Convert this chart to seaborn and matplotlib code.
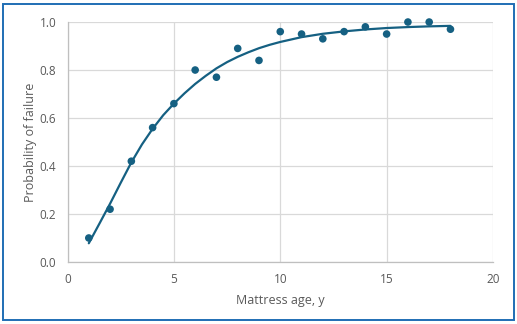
import matplotlib
matplotlib.use("Agg")
import matplotlib.pyplot as plt
from matplotlib.patches import Rectangle
import pandas as pd
import seaborn as sns

# Observed failure probabilities by mattress age (years)
age = [1, 2, 3, 4, 5, 6, 7, 8, 9, 10, 11, 12, 13, 14, 15, 16, 17, 18]
failure = [0.10, 0.22, 0.42, 0.56, 0.66, 0.80, 0.77, 0.89, 0.84, 0.96,
           0.95, 0.93, 0.96, 0.98, 0.95, 1.00, 1.00, 0.97]

# Fitted trend curve, sampled along the age axis
trend_age = [1, 1.5, 2, 2.5, 3, 3.5, 4, 4.5, 5, 5.5, 6, 6.5, 7, 7.5, 8,
             8.5, 9, 9.5, 10, 11, 12, 13, 14, 15, 16, 17, 18]
trend = [0.078, 0.16, 0.243, 0.33, 0.415, 0.49, 0.555, 0.612, 0.66,
         0.703, 0.742, 0.776, 0.807, 0.833, 0.855, 0.874, 0.891, 0.905,
         0.917, 0.937, 0.951, 0.961, 0.969, 0.975, 0.979, 0.982, 0.984]

x_ticks = [0, 5, 10, 15, 20]
y_ticks = [0.0, 0.2, 0.4, 0.6, 0.8, 1.0]

points = pd.DataFrame({"age": age, "failure": failure})
curve = pd.DataFrame({"age": trend_age, "trend": trend})

sns.set_theme(style="white")
plt.rcParams["font.family"] = ["Open Sans", "DejaVu Sans"]

color = "#156082"
grid = "#D9D9D9"
text = "#595959"

fig = plt.figure(figsize=(5.17, 3.24), dpi=100)
ax = fig.add_axes([0.1306, 0.1914, 0.823, 0.7406])

sns.lineplot(data=curve, x="age", y="trend", ax=ax, color=color,
             linewidth=1.6, zorder=3)
sns.scatterplot(data=points, x="age", y="failure", ax=ax, color=color,
                s=30, edgecolor="none", zorder=4, clip_on=False)

ax.set_xlim(0, 20)
ax.set_ylim(0, 1.0)
ax.set_xticks(x_ticks)
ax.set_xticklabels([str(v) for v in x_ticks])
ax.set_yticks(y_ticks)
ax.set_yticklabels([f"{v:.1f}" for v in y_ticks])
ax.grid(True, color=grid, linewidth=0.9)
ax.set_axisbelow(True)
for side in ["top", "right"]:
    ax.spines[side].set_visible(False)
for side in ["left", "bottom"]:
    ax.spines[side].set_color("#BFBFBF")
    ax.spines[side].set_linewidth(0.9)
ax.tick_params(axis="both", length=0, labelsize=8.5, colors=text, pad=8)
ax.set_xlabel("Mattress age, y", fontsize=9, color=text, labelpad=6)
ax.set_ylabel("Probability of failure", fontsize=9, color=text, labelpad=2)

# Chart frame
fig.patches.append(Rectangle((3 / 517, 4 / 324), 511 / 517, 316 / 324,
                             transform=fig.transFigure, fill=False,
                             edgecolor="#1F6EB4", linewidth=1.4))

fig.savefig("out.png", dpi=100, facecolor="white")
